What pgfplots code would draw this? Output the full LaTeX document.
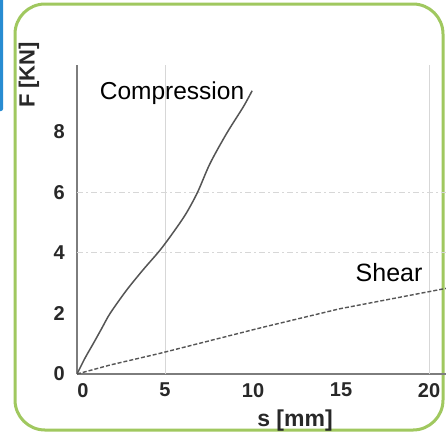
\documentclass[border=0pt]{standalone}
\usepackage{fontspec}
\setmainfont{Liberation Sans}
\usepackage{pgfplots}
\pgfplotsset{compat=1.18}
\definecolor{framegreen}{RGB}{160,200,95}
\definecolor{tabblue}{RGB}{40,140,210}
\definecolor{axgray}{RGB}{125,125,125}
\definecolor{curvegray}{RGB}{85,85,85}
\definecolor{gridgray}{RGB}{215,215,215}
\definecolor{labelgray}{RGB}{40,40,40}
\begin{document}
\begin{tikzpicture}
\useasboundingbox (0pt,0pt) rectangle (446pt,-432pt);
\fill[white] (0pt,0pt) rectangle (446pt,-432pt);
% blue tab
\fill[tabblue, rounded corners=2pt] (-3pt,2pt) rectangle (3pt,-111pt);
% green frame
\draw[framegreen, line width=3pt, rounded corners=30pt] (15pt,-4pt) rectangle (443pt,-430pt);
\begin{axis}[
  at={(77pt,-374pt)}, anchor=south west,
  scale only axis,
  width=369.6pt, height=309pt,
  xmin=0, xmax=21, ymin=0, ymax=10.2,
  axis lines*=left,
  axis line style={axgray, line width=1.3pt},
  tick style={draw=none},
  major tick length=0pt,
  xtick={0,5,10,15,20},
  xticklabels={\hspace{12pt}0,5,10,15,20},
  ytick={0,2,4,6,8},
  yticklabels={0\hspace{14pt},2,4,6,8},
  /pgf/number format/assume math mode=true,
  ticklabel style={font=\fontsize{20}{24}\selectfont\bfseries, text=labelgray},
  xticklabel style={inner sep=0pt, yshift=-9pt},
  yticklabel style={inner sep=0pt, xshift=-12pt},
  extra x ticks={5,20},
  extra x tick labels={},
  extra x tick style={grid=major, major grid style={gridgray, line width=1pt}},
  extra y ticks={4,6},
  extra y tick labels={},
  extra y tick style={grid=major, major grid style={gridgray, line width=1pt, dash pattern=on 6pt off 3pt on 2pt off 3pt}},
  clip=true,
]
\addplot[curvegray, line width=1.5pt, smooth, tension=0.5] coordinates {
  (0,0) (0.45,0.52) (0.93,1.01) (1.4,1.5) (1.88,2.0) (2.82,2.77) (3.77,3.45)
  (4.72,4.09) (5.5,4.7) (6.2,5.3) (6.85,6.0) (7.56,6.95) (8.5,7.94) (9.45,8.82) (9.95,9.35)
};
\addplot[curvegray, line width=1.4pt, dash pattern=on 4pt off 2pt] coordinates {
  (0,0) (1.9,0.3) (4.7,0.68) (10.4,1.52) (14.9,2.15) (21,2.83)
};
\node[font=\fontsize{24.5}{28}\selectfont, text=black, inner sep=0pt] at (axis cs:5.4,9.27) {Compression};
\node[font=\fontsize{25}{28}\selectfont, text=black, fill=white, inner sep=2pt] at (axis cs:17.73,3.34) {Shear};
\end{axis}
\node[font=\fontsize{23}{26}\selectfont\bfseries, text=labelgray] at (295pt,-421pt) {s [mm]};
\node[font=\fontsize{22}{26}\selectfont\bfseries, text=labelgray, inner sep=0pt, rotate=90] at (29pt,-75pt) {F [KN]};
\end{tikzpicture}
\end{document}
